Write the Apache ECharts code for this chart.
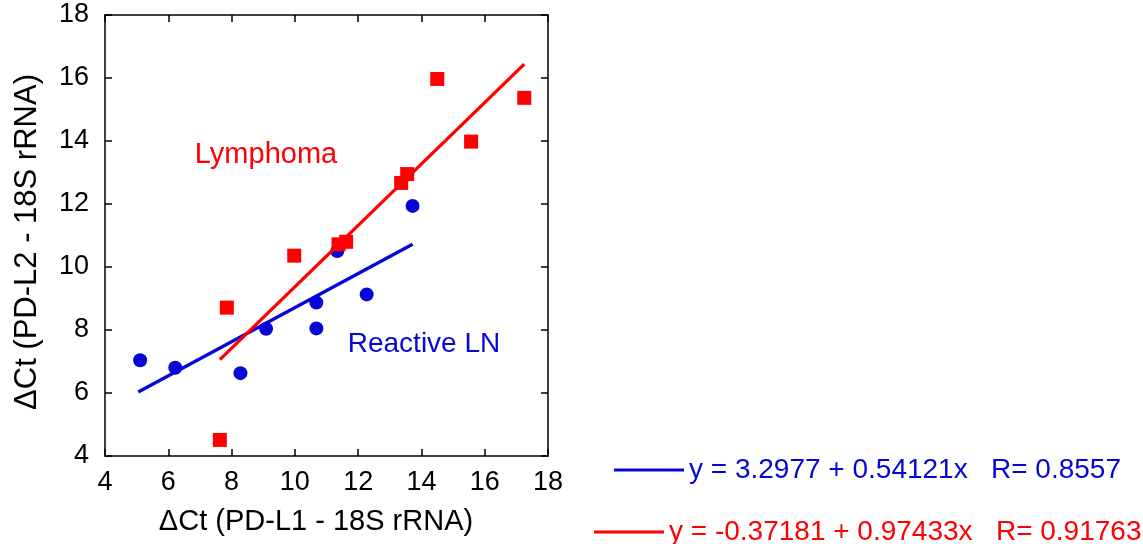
<!DOCTYPE html>
<html>
<head>
<meta charset="utf-8">
<script src="https://cdn.jsdelivr.net/npm/echarts@6/dist/echarts.min.js"></script>
<style>
  html, body { margin: 0; padding: 0; background: #fff; }
  #main { width: 1143px; height: 544px; }
</style>
</head>
<body>
<div id="main"></div>
<script>
// data
var lymphomaPts = [
  [7.63, 4.51], [7.85, 8.71], [9.98, 10.36], [11.38, 10.72], [11.62, 10.80],
  [13.36, 12.67], [13.55, 12.95], [14.50, 15.97], [15.57, 13.98], [17.25, 15.37]
];
var reactivePts = [
  [5.11, 7.04], [6.22, 6.80], [8.28, 6.63], [9.09, 8.04], [10.68, 8.87],
  [10.68, 8.05], [11.34, 10.51], [12.27, 9.13], [13.72, 11.94]
];
// fitted lines, end points
var reactiveFit = [[5.05, 6.03], [13.72, 10.72]];
var lymphomaFit = [[7.63, 7.06], [17.25, 16.44]];

var blueName = "y = 3.2977 + 0.54121x   R= 0.8557";
var redName = "y = -0.37181 + 0.97433x   R= 0.91763";

var xTicks = { min: 4, max: 18, step: 2 };
var yTicks = { min: 4, max: 18, step: 2 };

var BLUE = "#0606d6";
var RED = "#ff0000";
var FONT = "'Liberation Sans', Arial, sans-serif";

var chart = echarts.init(document.getElementById("main"));

function axisBase(show) {
  return {
    type: "value",
    axisLine: { show: true, onZero: false, lineStyle: { color: "#000", width: 1.5 } },
    axisTick: { show: true, inside: true, length: 7, lineStyle: { color: "#000", width: 1.5 } },
    splitLine: { show: false },
    axisLabel: { show: show, color: "#000", fontSize: 27, fontFamily: FONT }
  };
}

var xBottom = axisBase(true);
xBottom.position = "bottom";
xBottom.min = xTicks.min; xBottom.max = xTicks.max; xBottom.interval = xTicks.step;
xBottom.axisLabel.margin = 13;
var xTop = axisBase(false);
xTop.position = "top";
xTop.min = xTicks.min; xTop.max = xTicks.max; xTop.interval = xTicks.step;

var yLeft = axisBase(true);
yLeft.position = "left";
yLeft.min = yTicks.min; yLeft.max = yTicks.max; yLeft.interval = yTicks.step;
yLeft.axisLabel.margin = 16;
var yRight = axisBase(false);
yRight.position = "right";
yRight.min = yTicks.min; yRight.max = yTicks.max; yRight.interval = yTicks.step;

var option = {
  animation: false,
  backgroundColor: "#fff",
  grid: { left: 105, top: 15, width: 443, height: 441 },
  xAxis: [xBottom, xTop],
  yAxis: [yLeft, yRight],
  legend: [
    {
      data: [blueName],
      left: 614, top: 456, padding: 0,
      icon: "rect", itemWidth: 70, itemHeight: 3,
      selectedMode: false,
      textStyle: { color: BLUE, fontSize: 28, fontFamily: FONT }
    },
    {
      data: [redName],
      left: 594, top: 518, padding: 0,
      icon: "rect", itemWidth: 70, itemHeight: 3,
      selectedMode: false,
      textStyle: { color: RED, fontSize: 28, fontFamily: FONT }
    }
  ],
  graphic: [
    { type: "text", x: 316, y: 522,
      style: { text: "ΔCt (PD-L1 - 18S rRNA)", fontSize: 29, fontFamily: FONT, fill: "#000", align: "center", verticalAlign: "middle" } },
    { type: "text", x: 27, y: 242, rotation: Math.PI / 2,
      style: { text: "ΔCt (PD-L2 - 18S rRNA)", fontSize: 31, fontFamily: FONT, fill: "#000", align: "center", verticalAlign: "middle" } },
    { type: "text", x: 266, y: 155,
      style: { text: "Lymphoma", fontSize: 29, fontFamily: FONT, fill: RED, align: "center", verticalAlign: "middle" } },
    { type: "text", x: 424, y: 344,
      style: { text: "Reactive LN", fontSize: 28, fontFamily: FONT, fill: BLUE, align: "center", verticalAlign: "middle" } }
  ],
  series: [
    {
      name: blueName, type: "line", data: reactiveFit,
      symbol: "none", lineStyle: { color: BLUE, width: 3.3 }, itemStyle: { color: BLUE }, z: 2
    },
    {
      name: "Reactive LN", type: "scatter", data: reactivePts,
      symbol: "circle", symbolSize: 14, itemStyle: { color: BLUE, opacity: 1 }, z: 3
    },
    {
      name: redName, type: "line", data: lymphomaFit,
      symbol: "none", lineStyle: { color: RED, width: 3.3 }, itemStyle: { color: RED }, z: 4
    },
    {
      name: "Lymphoma", type: "scatter", data: lymphomaPts,
      symbol: "rect", symbolSize: 14, itemStyle: { color: RED, opacity: 1 }, z: 5
    }
  ]
};

chart.setOption(option);
</script>
</body>
</html>
